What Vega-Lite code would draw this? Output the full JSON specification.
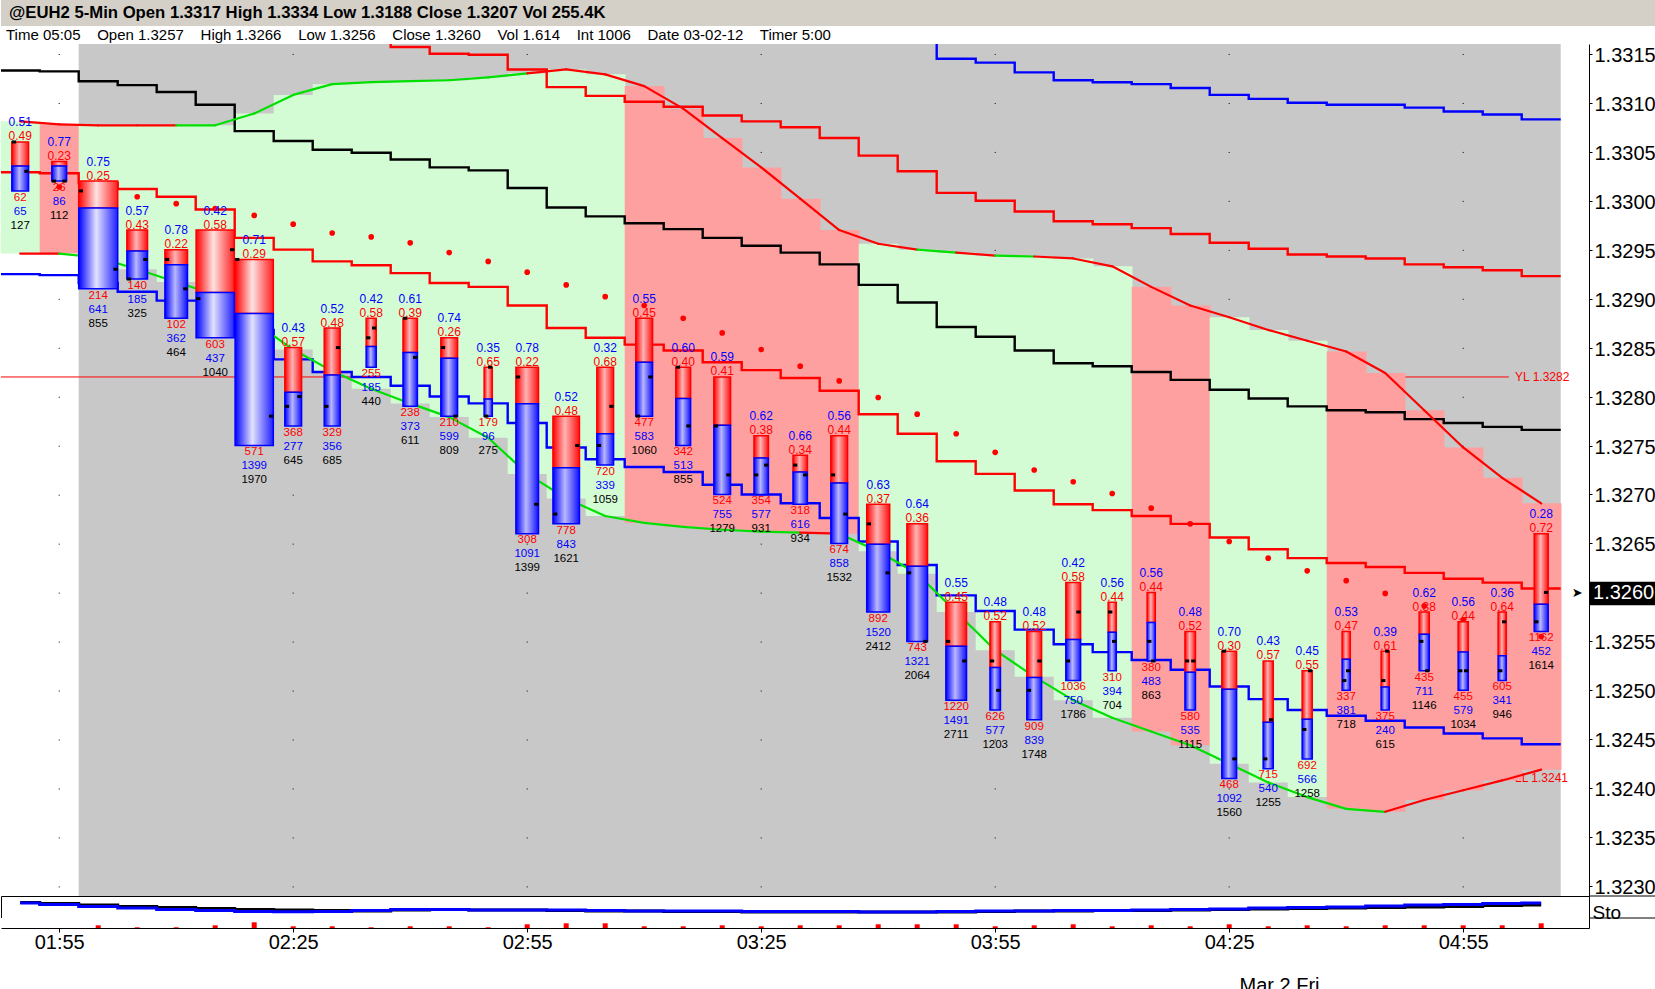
{
  "$schema": "https://vega.github.io/schema/vega-lite/v6.json",
  "padding": 0,
  "spacing": 0,
  "bounds": "flush",
  "background": "white",
  "config": {
    "font": "Liberation Sans",
    "view": {"stroke": null},
    "text": {"font": "Liberation Sans"}
  },
  "datasets": {
    "bars": [
      {"i":0,"hi":1.3306,"lo":1.3301,"op":1.3306,"cl":1.3303,"buy":0.51,"sell":0.49,"sv":62,"bv":65,"tv":127,"rel":0.43,"sar":null,"blk":1.33133,"rdA":null,"blA":null,"rdB":1.33029,"blB":1.32925,"up":1.33081,"dn":1.32946,"fc":"g","upc":"r","dnc":"g","sk":70.5,"sd":68.2,"mk":null},
      {"i":1,"hi":1.3304,"lo":1.3302,"op":1.3302,"cl":1.3302,"buy":0.77,"sell":0.23,"sv":26,"bv":86,"tv":112,"rel":0.38,"sar":1.33014,"blk":1.33132,"rdA":null,"blA":null,"rdB":1.33028,"blB":1.32924,"up":1.33078,"dn":1.32946,"fc":"r","upc":"r","dnc":"r","sk":65.9,"sd":61.4,"mk":null},
      {"i":2,"hi":1.3302,"lo":1.3291,"op":1.3301,"cl":1.3293,"buy":0.75,"sell":0.25,"sv":214,"bv":641,"tv":855,"rel":1.0,"sar":1.33009,"blk":1.33122,"rdA":null,"blA":null,"rdB":1.33018,"blB":1.32916,"up":1.33077,"dn":1.32942,"fc":"g","upc":"r","dnc":"g","sk":59.1,"sd":52.3,"mk":2.7},
      {"i":3,"hi":1.3297,"lo":1.3292,"op":1.3292,"cl":1.3294,"buy":0.57,"sell":0.43,"sv":140,"bv":185,"tv":325,"rel":0.53,"sar":1.33004,"blk":1.33118,"rdA":null,"blA":null,"rdB":1.33012,"blB":1.32907,"up":1.33077,"dn":1.3293,"fc":"g","upc":"r","dnc":"g","sk":52.3,"sd":45.5,"mk":0.7},
      {"i":4,"hi":1.3295,"lo":1.3288,"op":1.3294,"cl":1.3291,"buy":0.78,"sell":0.22,"sv":102,"bv":362,"tv":464,"rel":0.58,"sar":1.32997,"blk":1.33111,"rdA":null,"blA":null,"rdB":1.33004,"blB":1.32898,"up":1.33077,"dn":1.32917,"fc":"g","upc":"r","dnc":"g","sk":47.7,"sd":38.6,"mk":0.7},
      {"i":5,"hi":1.3297,"lo":1.3286,"op":1.329,"cl":1.3295,"buy":0.42,"sell":0.58,"sv":603,"bv":437,"tv":1040,"rel":0.98,"sar":1.32992,"blk":1.33098,"rdA":null,"blA":null,"rdB":1.32991,"blB":1.32898,"up":1.33077,"dn":1.32904,"fc":"g","upc":"g","dnc":"g","sk":43.2,"sd":34.1,"mk":2.7},
      {"i":6,"hi":1.3294,"lo":1.3275,"op":1.3294,"cl":1.3278,"buy":0.71,"sell":0.29,"sv":571,"bv":1399,"tv":1970,"rel":0.98,"sar":1.32985,"blk":1.33071,"rdA":null,"blA":null,"rdB":1.32962,"blB":1.32868,"up":1.33089,"dn":1.32876,"fc":"g","upc":"g","dnc":"g","sk":38.6,"sd":29.5,"mk":5.7},
      {"i":7,"hi":1.3285,"lo":1.3277,"op":1.3279,"cl":1.328,"buy":0.43,"sell":0.57,"sv":368,"bv":277,"tv":645,"rel":0.43,"sar":1.32976,"blk":1.33061,"rdA":null,"blA":null,"rdB":1.3295,"blB":1.32838,"up":1.33108,"dn":1.32848,"fc":"g","upc":"g","dnc":"g","sk":36.4,"sd":28.6,"mk":1.7},
      {"i":8,"hi":1.3287,"lo":1.3277,"op":1.3279,"cl":1.3285,"buy":0.52,"sell":0.48,"sv":329,"bv":356,"tv":685,"rel":0.41,"sar":1.32967,"blk":1.33052,"rdA":null,"blA":null,"rdB":1.32938,"blB":1.32825,"up":1.33119,"dn":1.32826,"fc":"g","upc":"g","dnc":"g","sk":34.1,"sd":29.5,"mk":1.7},
      {"i":9,"hi":1.3288,"lo":1.3283,"op":1.3286,"cl":1.3287,"buy":0.42,"sell":0.58,"sv":255,"bv":185,"tv":440,"rel":0.26,"sar":1.32963,"blk":1.33049,"rdA":1.3318,"blA":null,"rdB":1.32934,"blB":1.3282,"up":1.33121,"dn":1.32808,"fc":"g","upc":"g","dnc":"g","sk":31.8,"sd":34.1,"mk":0.7},
      {"i":10,"hi":1.3288,"lo":1.3279,"op":1.3288,"cl":1.3284,"buy":0.61,"sell":0.39,"sv":238,"bv":373,"tv":611,"rel":0.37,"sar":1.32957,"blk":1.33042,"rdA":1.33157,"blA":null,"rdB":1.32926,"blB":1.32811,"up":1.33122,"dn":1.32793,"fc":"g","upc":"g","dnc":"g","sk":36.4,"sd":38.6,"mk":1.7},
      {"i":11,"hi":1.3286,"lo":1.3278,"op":1.3285,"cl":1.3278,"buy":0.74,"sell":0.26,"sv":210,"bv":599,"tv":809,"rel":0.43,"sar":1.32947,"blk":1.33034,"rdA":1.3315,"blA":null,"rdB":1.32916,"blB":1.328,"up":1.33123,"dn":1.32779,"fc":"g","upc":"g","dnc":"g","sk":38.6,"sd":38.6,"mk":1.7},
      {"i":12,"hi":1.3283,"lo":1.3278,"op":1.3278,"cl":1.3283,"buy":0.35,"sell":0.65,"sv":179,"bv":96,"tv":275,"rel":0.21,"sar":1.32938,"blk":1.33031,"rdA":1.33149,"blA":null,"rdB":1.32912,"blB":1.32793,"up":1.33126,"dn":1.32758,"fc":"g","upc":"g","dnc":"g","sk":36.4,"sd":36.4,"mk":0.7},
      {"i":13,"hi":1.3283,"lo":1.3266,"op":1.3282,"cl":1.3269,"buy":0.78,"sell":0.22,"sv":308,"bv":1091,"tv":1399,"rel":0.58,"sar":1.32927,"blk":1.33013,"rdA":1.33134,"blA":null,"rdB":1.32893,"blB":1.32773,"up":1.3313,"dn":1.32721,"fc":"g","upc":"g","dnc":"g","sk":36.4,"sd":36.4,"mk":3.7},
      {"i":14,"hi":1.3278,"lo":1.3267,"op":1.3268,"cl":1.3275,"buy":0.52,"sell":0.48,"sv":778,"bv":843,"tv":1621,"rel":0.68,"sar":1.32914,"blk":1.32993,"rdA":1.33116,"blA":null,"rdB":1.3287,"blB":1.32748,"up":1.33134,"dn":1.32696,"fc":"g","upc":"r","dnc":"g","sk":34.1,"sd":36.4,"mk":4.7},
      {"i":15,"hi":1.3283,"lo":1.3273,"op":1.3275,"cl":1.3279,"buy":0.32,"sell":0.68,"sv":720,"bv":339,"tv":1059,"rel":0.43,"sar":1.32902,"blk":1.32984,"rdA":1.33107,"blA":null,"rdB":1.3286,"blB":1.32736,"up":1.33129,"dn":1.32678,"fc":"g","upc":"r","dnc":"g","sk":31.8,"sd":34.1,"mk":4.7},
      {"i":16,"hi":1.3288,"lo":1.3278,"op":1.3278,"cl":1.3282,"buy":0.55,"sell":0.45,"sv":477,"bv":583,"tv":1060,"rel":0.43,"sar":1.32893,"blk":1.32977,"rdA":1.33101,"blA":null,"rdB":1.32853,"blB":1.32728,"up":1.33117,"dn":1.32671,"fc":"r","upc":"r","dnc":"g","sk":31.8,"sd":31.8,"mk":1.7},
      {"i":17,"hi":1.3283,"lo":1.3275,"op":1.3283,"cl":1.3277,"buy":0.6,"sell":0.4,"sv":342,"bv":513,"tv":855,"rel":0.38,"sar":1.3288,"blk":1.32971,"rdA":1.33096,"blA":null,"rdB":1.32847,"blB":1.32723,"up":1.33094,"dn":1.32667,"fc":"r","upc":"r","dnc":"g","sk":29.5,"sd":31.8,"mk":1.7},
      {"i":18,"hi":1.3282,"lo":1.327,"op":1.3277,"cl":1.3272,"buy":0.59,"sell":0.41,"sv":524,"bv":755,"tv":1279,"rel":0.43,"sar":1.32865,"blk":1.32962,"rdA":1.33087,"blA":null,"rdB":1.32835,"blB":1.3271,"up":1.33064,"dn":1.32664,"fc":"r","upc":"r","dnc":"g","sk":29.5,"sd":31.8,"mk":2.7},
      {"i":19,"hi":1.3276,"lo":1.327,"op":1.3272,"cl":1.3273,"buy":0.62,"sell":0.38,"sv":354,"bv":577,"tv":931,"rel":0.37,"sar":1.32848,"blk":1.32954,"rdA":1.33081,"blA":null,"rdB":1.32827,"blB":1.327,"up":1.33034,"dn":1.32662,"fc":"r","upc":"r","dnc":"g","sk":27.3,"sd":29.5,"mk":1.7},
      {"i":20,"hi":1.3274,"lo":1.3269,"op":1.3273,"cl":1.3272,"buy":0.66,"sell":0.34,"sv":318,"bv":616,"tv":934,"rel":0.37,"sar":1.32831,"blk":1.32947,"rdA":1.33075,"blA":null,"rdB":1.32819,"blB":1.32691,"up":1.33002,"dn":1.32661,"fc":"r","upc":"r","dnc":"g","sk":27.3,"sd":29.5,"mk":2.7},
      {"i":21,"hi":1.3276,"lo":1.3265,"op":1.3272,"cl":1.3268,"buy":0.56,"sell":0.44,"sv":674,"bv":858,"tv":1532,"rel":0.43,"sar":1.32816,"blk":1.32935,"rdA":1.33064,"blA":null,"rdB":1.32806,"blB":1.32676,"up":1.3297,"dn":1.3266,"fc":"r","upc":"r","dnc":"r","sk":27.3,"sd":29.5,"mk":2.7},
      {"i":22,"hi":1.3269,"lo":1.3258,"op":1.3267,"cl":1.3262,"buy":0.63,"sell":0.37,"sv":892,"bv":1520,"tv":2412,"rel":0.59,"sar":1.32799,"blk":1.32914,"rdA":1.33046,"blA":null,"rdB":1.32782,"blB":1.32652,"up":1.32956,"dn":1.32642,"fc":"g","upc":"r","dnc":"g","sk":27.3,"sd":27.3,"mk":3.7},
      {"i":23,"hi":1.3267,"lo":1.3255,"op":1.3262,"cl":1.3255,"buy":0.64,"sell":0.36,"sv":743,"bv":1321,"tv":2064,"rel":0.53,"sar":1.32782,"blk":1.32896,"rdA":1.3303,"blA":1.3318,"rdB":1.32762,"blB":1.32628,"up":1.3295,"dn":1.32619,"fc":"g","upc":"r","dnc":"g","sk":27.3,"sd":27.3,"mk":3.7},
      {"i":24,"hi":1.3259,"lo":1.3249,"op":1.3255,"cl":1.3253,"buy":0.55,"sell":0.45,"sv":1220,"bv":1491,"tv":2711,"rel":0.53,"sar":1.32762,"blk":1.32871,"rdA":1.33008,"blA":1.33145,"rdB":1.32734,"blB":1.32597,"up":1.32947,"dn":1.3258,"fc":"g","upc":"g","dnc":"g","sk":27.3,"sd":29.5,"mk":3.7},
      {"i":25,"hi":1.3257,"lo":1.3248,"op":1.3253,"cl":1.325,"buy":0.48,"sell":0.52,"sv":626,"bv":577,"tv":1203,"rel":0.27,"sar":1.32743,"blk":1.32861,"rdA":1.33,"blA":1.33141,"rdB":1.32721,"blB":1.32581,"up":1.32944,"dn":1.32541,"fc":"g","upc":"r","dnc":"g","sk":29.5,"sd":31.8,"mk":1.7},
      {"i":26,"hi":1.3256,"lo":1.3247,"op":1.325,"cl":1.3253,"buy":0.48,"sell":0.52,"sv":909,"bv":839,"tv":1748,"rel":0.38,"sar":1.32725,"blk":1.32847,"rdA":1.32989,"blA":1.33131,"rdB":1.32704,"blB":1.32562,"up":1.32943,"dn":1.32514,"fc":"g","upc":"g","dnc":"g","sk":31.8,"sd":31.8,"mk":2.7},
      {"i":27,"hi":1.3261,"lo":1.3251,"op":1.3253,"cl":1.3258,"buy":0.42,"sell":0.58,"sv":1036,"bv":750,"tv":1786,"rel":0.38,"sar":1.32713,"blk":1.32834,"rdA":1.32979,"blA":1.33123,"rdB":1.3269,"blB":1.32547,"up":1.32941,"dn":1.3249,"fc":"g","upc":"r","dnc":"g","sk":31.8,"sd":34.1,"mk":3.7},
      {"i":28,"hi":1.3259,"lo":1.3252,"op":1.3258,"cl":1.3255,"buy":0.56,"sell":0.44,"sv":310,"bv":394,"tv":704,"rel":0.21,"sar":1.32701,"blk":1.32831,"rdA":1.32976,"blA":1.33121,"rdB":1.32684,"blB":1.32539,"up":1.32933,"dn":1.32472,"fc":"g","upc":"r","dnc":"g","sk":34.1,"sd":34.1,"mk":1.7},
      {"i":29,"hi":1.326,"lo":1.3253,"op":1.3255,"cl":1.3253,"buy":0.56,"sell":0.44,"sv":380,"bv":483,"tv":863,"rel":0.21,"sar":1.32686,"blk":1.32825,"rdA":1.32972,"blA":1.33119,"rdB":1.32678,"blB":1.32531,"up":1.32912,"dn":1.32458,"fc":"r","upc":"r","dnc":"g","sk":34.1,"sd":36.4,"mk":2.7},
      {"i":30,"hi":1.3256,"lo":1.3248,"op":1.3253,"cl":1.3253,"buy":0.48,"sell":0.52,"sv":580,"bv":535,"tv":1115,"rel":0.27,"sar":1.3267,"blk":1.32817,"rdA":1.32966,"blA":1.33115,"rdB":1.3267,"blB":1.32521,"up":1.32893,"dn":1.32444,"fc":"r","upc":"r","dnc":"g","sk":36.4,"sd":38.6,"mk":1.7},
      {"i":31,"hi":1.3254,"lo":1.3241,"op":1.3254,"cl":1.3243,"buy":0.7,"sell":0.3,"sv":468,"bv":1092,"tv":1560,"rel":0.38,"sar":1.32652,"blk":1.32807,"rdA":1.32957,"blA":1.33108,"rdB":1.32656,"blB":1.32504,"up":1.32881,"dn":1.32425,"fc":"g","upc":"r","dnc":"g","sk":38.6,"sd":40.9,"mk":3.7},
      {"i":32,"hi":1.3253,"lo":1.3242,"op":1.3243,"cl":1.3247,"buy":0.43,"sell":0.57,"sv":715,"bv":540,"tv":1255,"rel":0.26,"sar":1.32635,"blk":1.32798,"rdA":1.32951,"blA":1.33104,"rdB":1.32644,"blB":1.32491,"up":1.32868,"dn":1.32406,"fc":"g","upc":"r","dnc":"g","sk":40.9,"sd":45.5,"mk":1.7},
      {"i":33,"hi":1.3252,"lo":1.3243,"op":1.3246,"cl":1.3252,"buy":0.45,"sell":0.55,"sv":692,"bv":566,"tv":1258,"rel":0.26,"sar":1.32622,"blk":1.3279,"rdA":1.32945,"blA":1.331,"rdB":1.32635,"blB":1.3248,"up":1.32857,"dn":1.32391,"fc":"g","upc":"r","dnc":"g","sk":43.2,"sd":47.7,"mk":2.7},
      {"i":34,"hi":1.3256,"lo":1.325,"op":1.3251,"cl":1.3252,"buy":0.53,"sell":0.47,"sv":337,"bv":381,"tv":718,"rel":0.21,"sar":1.32612,"blk":1.32786,"rdA":1.32943,"blA":1.33098,"rdB":1.3263,"blB":1.32474,"up":1.32846,"dn":1.32379,"fc":"r","upc":"r","dnc":"g","sk":45.5,"sd":50,"mk":1.7},
      {"i":35,"hi":1.3254,"lo":1.3248,"op":1.3251,"cl":1.3254,"buy":0.39,"sell":0.61,"sv":375,"bv":240,"tv":615,"rel":0.21,"sar":1.32599,"blk":1.32784,"rdA":1.32941,"blA":1.33098,"rdB":1.32626,"blB":1.32469,"up":1.32824,"dn":1.32376,"fc":"r","upc":"r","dnc":"g","sk":47.7,"sd":54.5,"mk":2.7},
      {"i":36,"hi":1.3258,"lo":1.3252,"op":1.3255,"cl":1.3252,"buy":0.62,"sell":0.38,"sv":435,"bv":711,"tv":1146,"rel":0.26,"sar":1.32586,"blk":1.32777,"rdA":1.32935,"blA":1.33095,"rdB":1.3262,"blB":1.32462,"up":1.32786,"dn":1.32388,"fc":"r","upc":"r","dnc":"r","sk":50,"sd":59.1,"mk":2.7},
      {"i":37,"hi":1.3257,"lo":1.325,"op":1.3252,"cl":1.3252,"buy":0.56,"sell":0.44,"sv":455,"bv":579,"tv":1034,"rel":0.26,"sar":1.32572,"blk":1.32773,"rdA":1.32932,"blA":1.33091,"rdB":1.32614,"blB":1.32456,"up":1.32748,"dn":1.32398,"fc":"r","upc":"r","dnc":"r","sk":52.3,"sd":61.4,"mk":2.7},
      {"i":38,"hi":1.3258,"lo":1.3251,"op":1.3252,"cl":1.3257,"buy":0.36,"sell":0.64,"sv":605,"bv":341,"tv":946,"rel":0.21,"sar":1.32564,"blk":1.32769,"rdA":1.32929,"blA":1.33088,"rdB":1.3261,"blB":1.32451,"up":1.32717,"dn":1.32408,"fc":"r","upc":"r","dnc":"r","sk":56.8,"sd":65.9,"mk":2.7},
      {"i":39,"hi":1.3266,"lo":1.3256,"op":1.3257,"cl":1.326,"buy":0.28,"sell":0.72,"sv":1162,"bv":452,"tv":1614,"rel":0.36,"sar":1.32555,"blk":1.32766,"rdA":1.32923,"blA":1.33083,"rdB":1.32604,"blB":1.32445,"up":1.32691,"dn":1.32419,"fc":"r","upc":"r","dnc":"r","sk":59.1,"sd":68.2,"mk":4.7}
    ]
  },
  "vconcat": [
    {
      "width": 1655,
      "height": 26,
      "view": {"fill": "#d4d0c8", "stroke": null},
      "data": {"values": [{"k": 0, "txt": "@EUH2 5-Min Open 1.3317 High 1.3334 Low 1.3188 Close 1.3207 Vol 255.4K"}]},
      "mark": {"type": "text", "align": "left", "baseline": "middle", "dx": 8, "fontSize": 16.7, "fontWeight": "bold", "color": "#000000"},
      "encoding": {
        "x": {"field": "k", "type": "quantitative", "scale": {"domain": [0, 1]}, "axis": null},
        "text": {"field": "txt"}
      }
    },
    {
      "width": 1655,
      "height": 18,
      "view": {"fill": "white", "stroke": null},
      "data": {"values": [{"k": 0, "txt": "Time 05:05\u00a0\u00a0\u00a0 Open 1.3257\u00a0\u00a0\u00a0 High 1.3266\u00a0\u00a0\u00a0 Low 1.3256\u00a0\u00a0\u00a0 Close 1.3260\u00a0\u00a0\u00a0 Vol 1.614\u00a0\u00a0\u00a0 Int 1006\u00a0\u00a0\u00a0 Date 03-02-12\u00a0\u00a0\u00a0 Timer 5:00"}]},
      "mark": {"type": "text", "align": "left", "baseline": "middle", "dx": 5, "fontSize": 15, "color": "#000000"},
      "encoding": {
        "x": {"field": "k", "type": "quantitative", "scale": {"domain": [0, 1]}, "axis": null},
        "text": {"field": "txt"}
      }
    },
    {
      "width": 1588,
      "height": 852,
      "view": {"fill": "white", "stroke": null},
      "data": {"name": "bars"},
      "layer": [
        {
          "data": {"values": [{}]},
          "mark": {"type": "rect", "color": "#c8c8c8"},
          "encoding": {
            "x": {"datum": 1.5, "type": "quantitative", "scale": {"domain": [-0.4923, 40.2256], "nice": false, "zero": false, "padding": 0}, "axis": null},
            "x2": {"datum": 39.5},
            "y": {"datum": 1.3316, "type": "quantitative", "scale": {"domain": [1.3229, 1.3316], "nice": false, "zero": false, "padding": 0},
              "axis": {
                "orient": "right",
                "values": [1.323, 1.32325, 1.3235, 1.32375, 1.324, 1.32425, 1.3245, 1.32475, 1.325, 1.32525, 1.3255, 1.32575, 1.326, 1.32625, 1.3265, 1.32675, 1.327, 1.32725, 1.3275, 1.32775, 1.328, 1.32825, 1.3285, 1.32875, 1.329, 1.32925, 1.3295, 1.32975, 1.33, 1.33025, 1.3305, 1.33075, 1.331, 1.33125, 1.3315],
                "labelExpr": "abs(datum.value * 2000 - round(datum.value * 2000)) < 0.01 && abs(datum.value - 1.326) > 0.0001 ? format(datum.value, '.4f') : ''",
                "labelFont": "Liberation Sans",
                "labelFontSize": 20,
                "labelColor": "#000000",
                "labelPadding": 2,
                "labelOffset": 1.5,
                "labelOverlap": false,
                "labelFlush": false,
                "tickColor": "#000000",
                "tickSize": 3,
                "domainColor": "#000000",
                "grid": false,
                "title": null
              }
            },
            "y2": {"datum": 1.3229}
          }
        },
        {
          "transform": [{"filter": "(datum.i - 1) % 6 == 0"}],
          "mark": {"type": "rule", "color": "#000000", "strokeWidth": 1, "strokeDash": [1, 47.966], "strokeDashOffset": 38.97},
          "encoding": {
            "x": {"field": "i", "type": "quantitative", "axis": null},
            "y": {"datum": 1.3316},
            "y2": {"datum": 1.3229}
          }
        },
        {
          "data": {"values": [{}]},
          "layer": [
            {
              "mark": {"type": "rule", "color": "#ff0000", "strokeWidth": 1},
              "encoding": {
                "x": {"datum": -0.4923, "axis": null},
                "x2": {"datum": 38.17},
                "y": {"datum": 1.3282}
              }
            },
            {
              "mark": {"type": "text", "color": "#ff0000", "fontSize": 12, "align": "left", "baseline": "middle"},
              "encoding": {
                "x": {"datum": 38.33, "axis": null},
                "y": {"datum": 1.3282},
                "text": {"value": "YL 1.3282"}
              }
            },
            {
              "mark": {"type": "text", "color": "#ff0000", "fontSize": 12, "align": "left", "baseline": "middle"},
              "encoding": {
                "x": {"datum": 38.33, "axis": null},
                "y": {"datum": 1.3241},
                "text": {"value": "LL 1.3241"}
              }
            }
          ]
        },
        {
          "transform": [
            {"calculate": "datum.i - 0.5", "as": "xa"},
            {"calculate": "datum.i + 0.52", "as": "xb"}
          ],
          "mark": {"type": "rect"},
          "encoding": {
            "x": {"field": "xa", "type": "quantitative", "axis": null},
            "x2": {"field": "xb"},
            "y": {"field": "up", "type": "quantitative"},
            "y2": {"field": "dn"},
            "fill": {"field": "fc", "type": "nominal", "scale": {"domain": ["g", "r"], "range": ["#d4fcd4", "#ffa0a0"]}, "legend": null}
          }
        },
        {
          "transform": [
            {"calculate": "datum.i - 0.5", "as": "xa"},
            {"calculate": "datum.i + 0.5", "as": "xb"},
            {"fold": ["xa", "xb"], "as": ["side", "xs"]},
            {"calculate": "2 * datum.i + (datum.side == 'xb' ? 1 : 0)", "as": "ord"}
          ],
          "layer": [
            {
              "mark": {"type": "line", "color": "#000000", "strokeWidth": 2.4, "clip": true},
              "encoding": {
                "x": {"field": "xs", "type": "quantitative", "axis": null},
                "y": {"field": "blk", "type": "quantitative"},
                "order": {"field": "ord", "type": "quantitative"}
              }
            },
            {
              "mark": {"type": "line", "color": "#ff0000", "strokeWidth": 2.4, "clip": true},
              "encoding": {
                "x": {"field": "xs", "type": "quantitative", "axis": null},
                "y": {"field": "rdA", "type": "quantitative"},
                "order": {"field": "ord", "type": "quantitative"}
              }
            },
            {
              "mark": {"type": "line", "color": "#0000ff", "strokeWidth": 2.4, "clip": true},
              "encoding": {
                "x": {"field": "xs", "type": "quantitative", "axis": null},
                "y": {"field": "blA", "type": "quantitative"},
                "order": {"field": "ord", "type": "quantitative"}
              }
            },
            {
              "mark": {"type": "line", "color": "#ff0000", "strokeWidth": 2.4, "clip": true},
              "encoding": {
                "x": {"field": "xs", "type": "quantitative", "axis": null},
                "y": {"field": "rdB", "type": "quantitative"},
                "order": {"field": "ord", "type": "quantitative"}
              }
            },
            {
              "mark": {"type": "line", "color": "#0000ff", "strokeWidth": 2.4, "clip": true},
              "encoding": {
                "x": {"field": "xs", "type": "quantitative", "axis": null},
                "y": {"field": "blB", "type": "quantitative"},
                "order": {"field": "ord", "type": "quantitative"}
              }
            }
          ]
        },
        {
          "transform": [
            {"window": [
              {"op": "lag", "field": "up", "as": "up0"},
              {"op": "lag", "field": "dn", "as": "dn0"},
              {"op": "lag", "field": "i", "as": "i0"}
            ], "sort": [{"field": "i", "order": "ascending"}]},
            {"filter": "datum.i0 != null"}
          ],
          "layer": [
            {
              "mark": {"type": "rule", "strokeWidth": 2.2, "strokeCap": "round"},
              "encoding": {
                "x": {"field": "i0", "type": "quantitative", "axis": null},
                "x2": {"field": "i"},
                "y": {"field": "up0", "type": "quantitative"},
                "y2": {"field": "up"},
                "stroke": {"field": "upc", "type": "nominal", "scale": {"domain": ["g", "r"], "range": ["#00e000", "#ff0000"]}, "legend": null}
              }
            },
            {
              "mark": {"type": "rule", "strokeWidth": 2.2, "strokeCap": "round"},
              "encoding": {
                "x": {"field": "i0", "type": "quantitative", "axis": null},
                "x2": {"field": "i"},
                "y": {"field": "dn0", "type": "quantitative"},
                "y2": {"field": "dn"},
                "stroke": {"field": "dnc", "type": "nominal", "scale": {"domain": ["g", "r"], "range": ["#00e000", "#ff0000"]}, "legend": null}
              }
            }
          ]
        },
        {
          "mark": {"type": "circle", "color": "#ff0000", "size": 32, "opacity": 1},
          "encoding": {
            "x": {"field": "i", "type": "quantitative", "axis": null},
            "y": {"field": "sar", "type": "quantitative"}
          }
        },
        {
          "transform": [{"calculate": "datum.lo + datum.buy * (datum.hi - datum.lo)", "as": "mid"}],
          "layer": [
            {
              "transform": [{"filter": "datum.rel >= 0.9"}],
              "mark": {"type": "bar", "orient": "vertical", "stroke": "#ff0000", "strokeWidth": 1.5,
                "fill": {"gradient": "linear", "x1": 0, "y1": 0, "x2": 1, "y2": 0, "stops": [
                  {"offset": 0, "color": "#ff0000"}, {"offset": 0.45, "color": "#ffe2e2"}, {"offset": 1, "color": "#ff2020"}]}},
              "encoding": {
                "x": {"field": "i", "type": "quantitative", "axis": null},
                "y": {"field": "mid", "type": "quantitative"},
                "y2": {"field": "hi"},
                "size": {"field": "rel", "type": "quantitative", "scale": {"domain": [0, 1], "range": [0, 39]}, "legend": null}
              }
            },
            {
              "transform": [{"filter": "datum.rel < 0.9"}],
              "mark": {"type": "bar", "orient": "vertical", "stroke": "#ff0000", "strokeWidth": 1.5,
                "fill": {"gradient": "linear", "x1": 0, "y1": 0, "x2": 1, "y2": 0, "stops": [
                  {"offset": 0, "color": "#ff0000"}, {"offset": 0.45, "color": "#ffb4b4"}, {"offset": 1, "color": "#ff1010"}]}},
              "encoding": {
                "x": {"field": "i", "type": "quantitative", "axis": null},
                "y": {"field": "mid", "type": "quantitative"},
                "y2": {"field": "hi"},
                "size": {"field": "rel", "type": "quantitative", "scale": {"domain": [0, 1], "range": [0, 39]}, "legend": null}
              }
            },
            {
              "transform": [{"filter": "datum.rel >= 0.9"}],
              "mark": {"type": "bar", "orient": "vertical", "stroke": "#0000ff", "strokeWidth": 1.5,
                "fill": {"gradient": "linear", "x1": 0, "y1": 0, "x2": 1, "y2": 0, "stops": [
                  {"offset": 0, "color": "#0000ff"}, {"offset": 0.45, "color": "#e2e2ff"}, {"offset": 1, "color": "#2020ff"}]}},
              "encoding": {
                "x": {"field": "i", "type": "quantitative", "axis": null},
                "y": {"field": "lo", "type": "quantitative"},
                "y2": {"field": "mid"},
                "size": {"field": "rel", "type": "quantitative", "scale": {"domain": [0, 1], "range": [0, 39]}, "legend": null}
              }
            },
            {
              "transform": [{"filter": "datum.rel < 0.9"}],
              "mark": {"type": "bar", "orient": "vertical", "stroke": "#0000ff", "strokeWidth": 1.5,
                "fill": {"gradient": "linear", "x1": 0, "y1": 0, "x2": 1, "y2": 0, "stops": [
                  {"offset": 0, "color": "#0000ff"}, {"offset": 0.45, "color": "#b8b8ff"}, {"offset": 1, "color": "#1010ff"}]}},
              "encoding": {
                "x": {"field": "i", "type": "quantitative", "axis": null},
                "y": {"field": "lo", "type": "quantitative"},
                "y2": {"field": "mid"},
                "size": {"field": "rel", "type": "quantitative", "scale": {"domain": [0, 1], "range": [0, 39]}, "legend": null}
              }
            }
          ]
        },
        {
          "transform": [
            {"calculate": "datum.i - datum.rel / 2", "as": "l1"},
            {"calculate": "datum.i - datum.rel / 2 + 0.11", "as": "l2"},
            {"calculate": "datum.i + datum.rel / 2 - 0.11", "as": "r1"},
            {"calculate": "datum.i + datum.rel / 2", "as": "r2"}
          ],
          "layer": [
            {
              "mark": {"type": "rule", "color": "#000000", "strokeWidth": 3},
              "encoding": {
                "x": {"field": "l1", "type": "quantitative", "axis": null},
                "x2": {"field": "l2"},
                "y": {"field": "op", "type": "quantitative"}
              }
            },
            {
              "mark": {"type": "rule", "color": "#000000", "strokeWidth": 3},
              "encoding": {
                "x": {"field": "r1", "type": "quantitative", "axis": null},
                "x2": {"field": "r2"},
                "y": {"field": "cl", "type": "quantitative"}
              }
            }
          ]
        },
        {
          "mark": {"type": "text", "color": "#0000ff", "fontSize": 12, "baseline": "middle", "dy": -19.5},
          "encoding": {
            "x": {"field": "i", "type": "quantitative", "axis": null},
            "y": {"field": "hi", "type": "quantitative"},
            "text": {"field": "buy", "type": "quantitative", "format": ".2f"}
          }
        },
        {
          "mark": {"type": "text", "color": "#ff0000", "fontSize": 12, "baseline": "middle", "dy": -5.5},
          "encoding": {
            "x": {"field": "i", "type": "quantitative", "axis": null},
            "y": {"field": "hi", "type": "quantitative"},
            "text": {"field": "sell", "type": "quantitative", "format": ".2f"}
          }
        },
        {
          "mark": {"type": "text", "color": "#ff0000", "fontSize": 11.5, "baseline": "middle", "dy": 6.8},
          "encoding": {
            "x": {"field": "i", "type": "quantitative", "axis": null},
            "y": {"field": "lo", "type": "quantitative"},
            "text": {"field": "sv", "type": "quantitative"}
          }
        },
        {
          "mark": {"type": "text", "color": "#0000ff", "fontSize": 11.5, "baseline": "middle", "dy": 20.8},
          "encoding": {
            "x": {"field": "i", "type": "quantitative", "axis": null},
            "y": {"field": "lo", "type": "quantitative"},
            "text": {"field": "bv", "type": "quantitative"}
          }
        },
        {
          "mark": {"type": "text", "color": "#000000", "fontSize": 11.5, "baseline": "middle", "dy": 34.8},
          "encoding": {
            "x": {"field": "i", "type": "quantitative", "axis": null},
            "y": {"field": "lo", "type": "quantitative"},
            "text": {"field": "tv", "type": "quantitative"}
          }
        },
        {
          "data": {"values": [{}]},
          "layer": [
            {
              "mark": {"type": "rect", "color": "#000000"},
              "encoding": {
                "x": {"datum": 40.25, "axis": null},
                "x2": {"datum": 41.92},
                "y": {"datum": 1.32611},
                "y2": {"datum": 1.32587}
              }
            },
            {
              "mark": {"type": "text", "color": "#ffffff", "fontSize": 20, "align": "left", "baseline": "middle"},
              "encoding": {
                "x": {"datum": 40.33, "axis": null},
                "y": {"datum": 1.32599},
                "text": {"value": "1.3260"}
              }
            },
            {
              "mark": {"type": "text", "color": "#000000", "font": "DejaVu Sans", "fontSize": 13, "align": "center", "baseline": "middle"},
              "encoding": {
                "x": {"datum": 39.92, "axis": null},
                "y": {"datum": 1.32599},
                "text": {"value": "\u27a4"}
              }
            }
          ]
        }
      ]
    },
    {
      "width": 1588,
      "height": 22,
      "view": {"fill": "white", "stroke": "#000000", "strokeWidth": 1},
      "data": {"name": "bars"},
      "layer": [
        {
          "mark": {"type": "line", "interpolate": "step", "color": "#000000", "strokeWidth": 3},
          "encoding": {
            "x": {"field": "i", "type": "quantitative", "scale": {"domain": [-0.4923, 40.2256], "nice": false, "zero": false, "padding": 0}, "axis": null},
            "y": {"field": "sk", "type": "quantitative", "scale": {"domain": [0, 100], "nice": false},
              "axis": {"orient": "right", "labels": false, "ticks": false, "grid": false, "domainColor": "#000000",
                "title": "Sto", "titleAngle": 0, "titleAlign": "left", "titleBaseline": "middle", "titleFont": "Liberation Sans",
                "titleFontSize": 19, "titleFontWeight": "normal", "titleColor": "#000000", "titleX": 3, "titleY": 16}}
          }
        },
        {
          "mark": {"type": "line", "interpolate": "step", "color": "#0000ff", "strokeWidth": 3},
          "encoding": {
            "x": {"field": "i", "type": "quantitative", "axis": null},
            "y": {"field": "sd", "type": "quantitative"}
          }
        },
        {
          "data": {"values": [{}]},
          "layer": [
            {
              "mark": {"type": "rule", "color": "#000000", "strokeWidth": 1},
              "encoding": {"x": {"datum": 40.2256, "axis": null}, "x2": {"datum": 41.95}, "y": {"datum": 100}}
            },
            {
              "mark": {"type": "rule", "color": "#000000", "strokeWidth": 1},
              "encoding": {"x": {"datum": 40.2256, "axis": null}, "x2": {"datum": 41.95}, "y": {"datum": 0}}
            }
          ]
        }
      ]
    },
    {
      "width": 1588,
      "height": 10,
      "view": {"fill": "white", "stroke": null},
      "data": {"name": "bars"},
      "mark": {"type": "bar", "color": "#ff0000", "size": 5},
      "encoding": {
        "x": {
          "field": "i", "type": "quantitative",
          "scale": {"domain": [-0.4923, 40.2256], "nice": false, "zero": false, "padding": 0},
          "axis": {
            "orient": "bottom",
            "values": [1, 7, 13, 19, 25, 31, 37],
            "labelExpr": "['01:55','02:25','02:55','03:25','03:55','04:25','04:55'][round((datum.value - 1) / 6)]",
            "labelFont": "Liberation Sans",
            "labelFontSize": 20,
            "labelColor": "#000000",
            "labelPadding": 0,
            "labelFlush": false,
            "labelOverlap": false,
            "tickColor": "#000000",
            "tickSize": 4,
            "domainColor": "#000000",
            "grid": false,
            "title": "Mar 2 Fri",
            "titleFont": "Liberation Sans",
            "titleFontSize": 20,
            "titleFontWeight": "normal",
            "titleColor": "#000000",
            "titleX": 1278,
            "titleY": 47,
            "titleAlign": "center",
            "titleBaseline": "top"
          }
        },
        "y": {
          "field": "mk", "type": "quantitative",
          "scale": {"domain": [0, 10], "nice": false},
          "axis": {"orient": "right", "labels": false, "ticks": false, "grid": false, "title": null, "domainColor": "#000000"}
        }
      }
    }
  ]
}
